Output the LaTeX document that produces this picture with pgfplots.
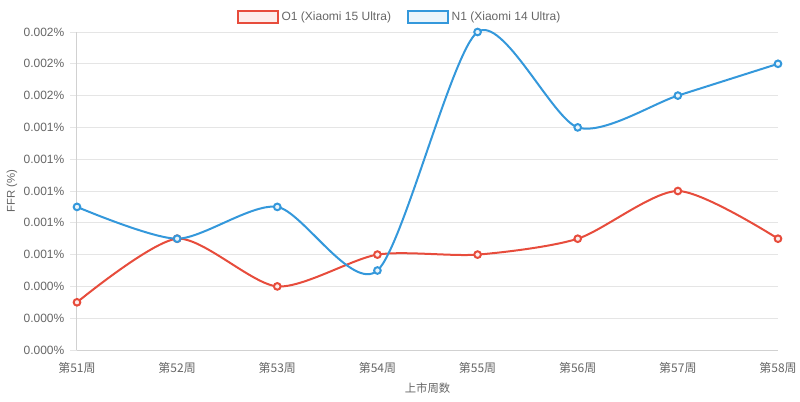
\documentclass[border=0pt]{standalone}
\usepackage{pgfplots}
\pgfplotsset{compat=1.18}
\usepackage{fontspec}
\setmainfont{Liberation Sans}
\newfontfamily\cjk{Noto Sans CJK SC}
\definecolor{cred}{HTML}{E74C3C}
\definecolor{cblue}{HTML}{3498DB}
\definecolor{tgray}{HTML}{666666}
\definecolor{ggray}{HTML}{E5E5E5}
\begin{document}
\begin{tikzpicture}
\useasboundingbox (0,0) rectangle (600pt,300.75pt);
\begin{axis}[
  at={(57.75pt,38.25pt)}, anchor=south west,
  scale only axis, width=525.75pt, height=238.5pt,
  xmin=0, xmax=7, ymin=0, ymax=0.002,
  xtick={0,...,7},
  xticklabels={{\cjk 第51周},{\cjk 第52周},{\cjk 第53周},{\cjk 第54周},{\cjk 第55周},{\cjk 第56周},{\cjk 第57周},{\cjk 第58周}},
  ytick={0,0.0002,0.0004,0.0006,0.0008,0.001,0.0012,0.0014,0.0016,0.0018,0.002},
  yticklabels={0.000\%,0.000\%,0.000\%,0.001\%,0.001\%,0.001\%,0.001\%,0.001\%,0.002\%,0.002\%,0.002\%},
  scaled y ticks=false,
  tick label style={font=\fontsize{9}{10}\selectfont, text=tgray},
  ymajorgrids, grid style={ggray, line width=0.75pt},
  axis line style={draw=ggray!80!gray, line width=0.75pt},
  axis x line*=bottom, axis y line*=left,
  x axis line style={-}, y axis line style={-},
  xtick style={draw=none},
  ytick style={draw=ggray, line width=0.75pt},
  tick align=outside, major tick length=5pt,
  xticklabel style={yshift=-1pt},
  yticklabel style={xshift=-1pt},
  clip=false,
  xlabel={{\cjk 上市周数}}, ylabel={FFR (\%)},
  xlabel style={font=\fontsize{8.5}{10}\selectfont, text=tgray, at={(axis description cs:0.5,0)}, anchor=north, yshift=-21pt},
  ylabel style={font=\fontsize{8.5}{10}\selectfont, text=tgray, at={(axis description cs:-0.0927,0.5)}, anchor=center},
  legend style={at={(axis description cs:0.4608,1)}, anchor=south, yshift=3pt, draw=none, fill=none,
    font=\fontsize{9}{10}\selectfont, text=tgray, legend columns=2,
    /tikz/every even column/.append style={column sep=10pt}},
  legend image code/.code={\draw[#1] (0pt,-4.5pt) rectangle (30pt,4.5pt);},
]
\addplot[cred, line width=1.5pt, smooth, tension=0.45, mark=*, mark size=2.5pt, mark options={fill=cred!10, line width=1.5pt}, forget plot]
 coordinates {(0,0.0003) (1,0.0007) (2,0.0004) (3,0.0006) (4,0.0006) (5,0.0007) (6,0.001) (7,0.0007)};
\addplot[cblue, line width=1.5pt, smooth, tension=0.45, mark=*, mark size=2.5pt, mark options={fill=cblue!10, line width=1.5pt}, forget plot]
 coordinates {(0,0.0009) (1,0.0007) (2,0.0009) (3,0.0005) (4,0.002) (5,0.0014) (6,0.0016) (7,0.0018)};
\addlegendimage{draw=cred, fill=cred!10, line width=1.5pt}
\addlegendentry{O1 (Xiaomi 15 Ultra)}
\addlegendimage{draw=cblue, fill=cblue!10, line width=1.5pt}
\addlegendentry{N1 (Xiaomi 14 Ultra)}
\end{axis}
\end{tikzpicture}
\end{document}
